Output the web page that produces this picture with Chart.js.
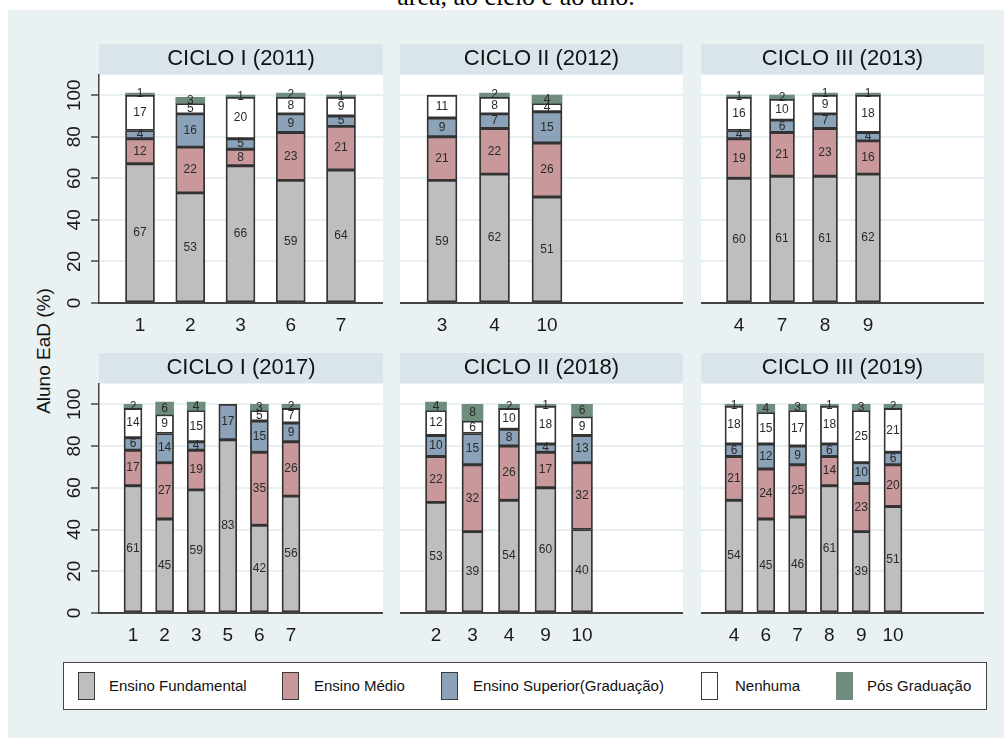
<!DOCTYPE html>
<html>
<head>
<meta charset="utf-8">
<script src="https://cdn.jsdelivr.net/npm/chart.js@4.4.1/dist/chart.umd.min.js"></script>
<style>
  html, body { margin: 0; padding: 0; background: #ffffff; width: 1008px; height: 738px; overflow: hidden;
    font-family: "Liberation Sans", Arial, sans-serif; }
  #caption { position: absolute; left: 12px; width: 1008px; top: -18px; text-align: center;
    font-family: "Liberation Serif", "Times New Roman", serif; font-size: 26px; line-height: 30px; color: #000; white-space: nowrap; }
  #frame { position: absolute; left: 8px; top: 10px; width: 996px; height: 728px; background: #EAF1F3; }
  canvas { position: absolute; }
  #ytitle { position: absolute; left: 44px; top: 351px; transform: translate(-50%, -50%) rotate(-90deg);
    font-size: 19px; color: #111; white-space: nowrap; }
  #legend { position: absolute; left: 63px; top: 662px; width: 924px; height: 48px; box-sizing: border-box;
    background: #fff; border: 1.5px solid #444; }
  .sw { position: absolute; top: 9px; width: 17px; height: 28px; box-sizing: border-box; border: 1.5px solid #3a3a3a; }
  .lt { position: absolute; top: 13px; font-size: 15px; line-height: 20px; color: #111; white-space: nowrap; }
</style>
</head>
<body>
<div id="caption">área, ao ciclo e ao ano.</div>
<div id="frame"></div>
<div id="ytitle">Aluno EaD (%)</div>
<div id="legend"></div>

<script>
// Education levels (stack order, bottom to top)
const levels = ['Ensino Fundamental', 'Ensino Médio', 'Ensino Superior(Graduação)', 'Nenhuma', 'Pós Graduação'];
const yTicks = [0, 20, 40, 60, 80, 100];

// CICLO I (2011)
const c1_2011_areas = ['1', '2', '3', '6', '7'];
const c1_2011_fund = [67, 53, 66, 59, 64];
const c1_2011_medio = [12, 22, 8, 23, 21];
const c1_2011_sup = [4, 16, 5, 9, 5];
const c1_2011_nenhuma = [17, 5, 20, 8, 9];
const c1_2011_pos = [1, 3, 1, 2, 1];

// CICLO II (2012)
const c2_2012_areas = ['3', '4', '10'];
const c2_2012_fund = [59, 62, 51];
const c2_2012_medio = [21, 22, 26];
const c2_2012_sup = [9, 7, 15];
const c2_2012_nenhuma = [11, 8, 4];
const c2_2012_pos = [null, 2, 4];

// CICLO III (2013)
const c3_2013_areas = ['4', '7', '8', '9'];
const c3_2013_fund = [60, 61, 61, 62];
const c3_2013_medio = [19, 21, 23, 16];
const c3_2013_sup = [4, 6, 7, 4];
const c3_2013_nenhuma = [16, 10, 9, 18];
const c3_2013_pos = [1, 2, 1, 1];

// CICLO I (2017)
const c1_2017_areas = ['1', '2', '3', '5', '6', '7'];
const c1_2017_fund = [61, 45, 59, 83, 42, 56];
const c1_2017_medio = [17, 27, 19, null, 35, 26];
const c1_2017_sup = [6, 14, 4, 17, 15, 9];
const c1_2017_nenhuma = [14, 9, 15, null, 5, 7];
const c1_2017_pos = [2, 6, 4, null, 3, 2];

// CICLO II (2018)
const c2_2018_areas = ['2', '3', '4', '9', '10'];
const c2_2018_fund = [53, 39, 54, 60, 40];
const c2_2018_medio = [22, 32, 26, 17, 32];
const c2_2018_sup = [10, 15, 8, 4, 13];
const c2_2018_nenhuma = [12, 6, 10, 18, 9];
const c2_2018_pos = [4, 8, 2, 1, 6];

// CICLO III (2019)
const c3_2019_areas = ['4', '6', '7', '8', '9', '10'];
const c3_2019_fund = [54, 45, 46, 61, 39, 51];
const c3_2019_medio = [21, 24, 25, 14, 23, 20];
const c3_2019_sup = [6, 12, 9, 6, 10, 6];
const c3_2019_nenhuma = [18, 15, 17, 18, 25, 21];
const c3_2019_pos = [1, 4, 3, 1, 3, 2];

// Fill colours per level
const palette = ['#BEBEBE', '#C8989B', '#8BA2B8', '#FFFFFF', '#6E8D7D'];

// Panel layout: canvas box, plot width, first bar centre offset, bar spacing, bar width
const panels = [
  { title: 'CICLO I (2011)',   areas: c1_2011_areas, series: [c1_2011_fund, c1_2011_medio, c1_2011_sup, c1_2011_nenhuma, c1_2011_pos],
    left: 54,  top: 44,  plotW: 284, plotH: 229, first: 41, step: 50.25, bar: 29, yAxis: true },
  { title: 'CICLO II (2012)',  areas: c2_2012_areas, series: [c2_2012_fund, c2_2012_medio, c2_2012_sup, c2_2012_nenhuma, c2_2012_pos],
    left: 400, top: 44,  plotW: 283, plotH: 229, first: 42, step: 52.5, bar: 30, yAxis: false },
  { title: 'CICLO III (2013)', areas: c3_2013_areas, series: [c3_2013_fund, c3_2013_medio, c3_2013_sup, c3_2013_nenhuma, c3_2013_pos],
    left: 701, top: 44,  plotW: 283, plotH: 229, first: 38, step: 43, bar: 25, yAxis: false },
  { title: 'CICLO I (2017)',   areas: c1_2017_areas, series: [c1_2017_fund, c1_2017_medio, c1_2017_sup, c1_2017_nenhuma, c1_2017_pos],
    left: 54,  top: 353, plotW: 284, plotH: 230, first: 34, step: 31.6, bar: 18, yAxis: true },
  { title: 'CICLO II (2018)',  areas: c2_2018_areas, series: [c2_2018_fund, c2_2018_medio, c2_2018_sup, c2_2018_nenhuma, c2_2018_pos],
    left: 400, top: 353, plotW: 283, plotH: 230, first: 36, step: 36.5, bar: 21, yAxis: false },
  { title: 'CICLO III (2019)', areas: c3_2019_areas, series: [c3_2019_fund, c3_2019_medio, c3_2019_sup, c3_2019_nenhuma, c3_2019_pos],
    left: 701, top: 353, plotW: 283, plotH: 230, first: 33, step: 31.8, bar: 18, yAxis: false },
];

const FONT = '"Liberation Sans", Arial, sans-serif';
const Y_AXIS_W = 45, TITLE_H = 30.4, X_AXIS_H = 42;

// White plot area and the shaded header strip behind each panel title
const panelDecor = {
  id: 'panelDecor',
  beforeDraw(chart) {
    const { ctx, chartArea: a } = chart;
    ctx.save();
    ctx.fillStyle = '#FFFFFF';
    ctx.fillRect(a.left, a.top, a.right - a.left, a.bottom - a.top);
    const t = chart.titleBlock;
    if (t) {
      ctx.fillStyle = '#D9E5EB';
      ctx.fillRect(a.left, t.top, a.right - a.left, a.top - t.top);
    }
    ctx.restore();
  }
};

// Percentage written in the middle of each stacked segment
const segmentValues = {
  id: 'segmentValues',
  afterDatasetsDraw(chart) {
    const ctx = chart.ctx;
    ctx.save();
    ctx.font = '12px ' + FONT;
    ctx.fillStyle = '#2a2a2a';
    ctx.textAlign = 'center';
    ctx.textBaseline = 'middle';
    chart.data.datasets.forEach((ds, di) => {
      const meta = chart.getDatasetMeta(di);
      meta.data.forEach((bar, i) => {
        const v = ds.data[i].y;
        if (v == null) return;
        const p = bar.getProps(['x', 'y', 'base'], true);
        ctx.fillText(String(v), p.x, (p.y + p.base) / 2);
      });
    });
    ctx.restore();
  }
};

panels.forEach(p => {
  const cv = document.createElement('canvas');
  const w = p.plotW + (p.yAxis ? Y_AXIS_W : 0);
  const h = Math.round(TITLE_H + p.plotH + X_AXIS_H);
  cv.width = w; cv.height = h;
  cv.style.left = p.left + 'px';
  cv.style.top = p.top + 'px';
  document.body.appendChild(cv);

  const xMin = -p.first / p.step;
  const xMax = (p.plotW - p.first) / p.step;

  new Chart(cv, {
    type: 'bar',
    data: {
      datasets: levels.map((name, k) => ({
        label: name,
        data: p.series[k].map((v, i) => ({ x: i, y: v })),
        backgroundColor: palette[k],
        borderColor: k === 4 ? palette[k] : '#333333',
        borderWidth: k === 4 ? 0 : 1.8,
        borderSkipped: false,
        barThickness: p.bar,
      }))
    },
    options: {
      responsive: false,
      animation: false,
      layout: { padding: 0 },
      scales: {
        x: {
          type: 'linear', stacked: true, min: xMin, max: xMax, offset: false,
          afterBuildTicks: s => { s.ticks = p.areas.map((_, i) => ({ value: i })); },
          ticks: { callback: (v, i) => p.areas[i], font: { family: FONT, size: 19 }, color: '#1a1a1a',
                   padding: 11, autoSkip: false, minRotation: 0, maxRotation: 0 },
          grid: { display: false, drawTicks: false },
          border: { display: true, color: '#444', width: 2, z: 1 },
          afterFit: s => { s.height = X_AXIS_H; }
        },
        y: {
          stacked: true, min: 0, max: 110,
          afterBuildTicks: s => { s.ticks = yTicks.map(v => ({ value: v })); },
          ticks: { display: p.yAxis, font: { family: FONT, size: 19 }, color: '#1a1a1a',
                   minRotation: 90, maxRotation: 90, padding: 0, autoSkip: false, crossAlign: 'center' },
          grid: { color: '#E8F0F2', lineWidth: 2, drawTicks: p.yAxis, tickLength: 8, tickColor: '#444', tickWidth: 1.5 },
          border: { display: p.yAxis, color: '#444', width: 1.5, z: 1 },
          afterFit: s => { s.width = p.yAxis ? Y_AXIS_W : 0; }
        }
      },
      plugins: {
        legend: { display: false },
        tooltip: { enabled: false },
        title: { display: true, text: p.title, fullSize: false, color: '#111',
                 font: { family: FONT, size: 22, weight: 'normal' }, padding: { top: 2, bottom: 2 } }
      }
    },
    plugins: [panelDecor, segmentValues]
  });
});

// Legend box below the panels
const legendPos = [[14, 45], [218, 250], [377, 409], [637, 671], [772, 803]];
const legend = document.getElementById('legend');
levels.forEach((name, k) => {
  const sw = document.createElement('div');
  sw.className = 'sw';
  sw.style.left = legendPos[k][0] + 'px';
  sw.style.background = palette[k];
  if (k === 4) sw.style.borderColor = palette[k];
  legend.appendChild(sw);
  const t = document.createElement('div');
  t.className = 'lt';
  t.style.left = legendPos[k][1] + 'px';
  t.textContent = name;
  legend.appendChild(t);
});
</script>
</body>
</html>
